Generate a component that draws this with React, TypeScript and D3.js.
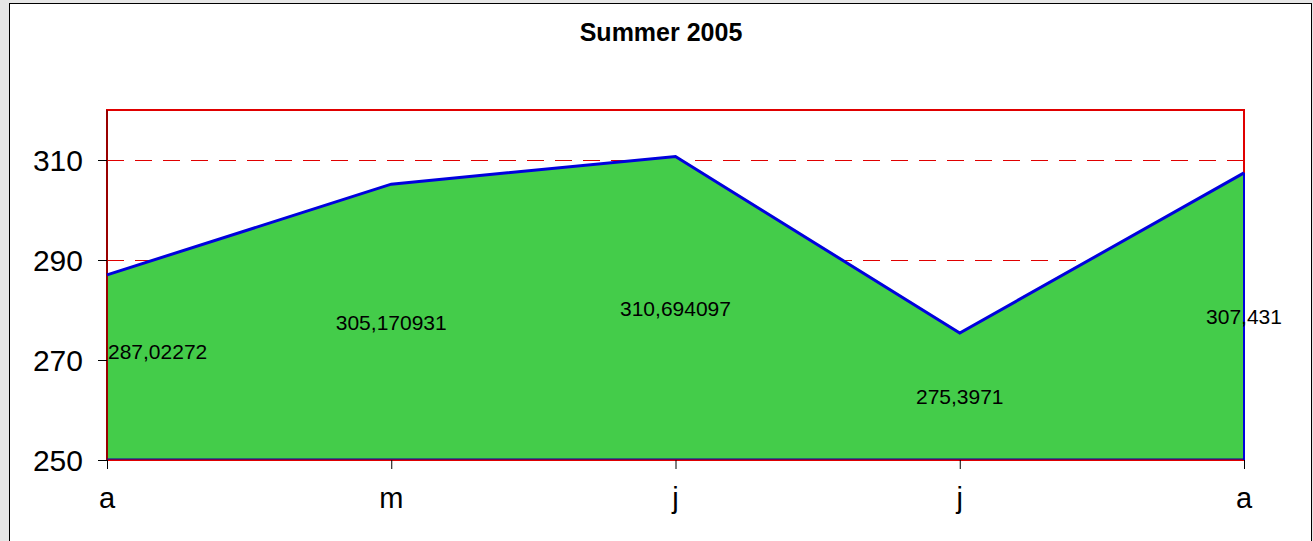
import React from 'react';
import * as d3 from 'd3';

const months = ['a', 'm', 'j', 'j', 'a'];
const values = [287.02272, 305.170931, 310.694097, 275.3971, 307.431];
const labels = ['287,02272', '305,170931', '310,694097', '275,3971', '307,431'];
const yTicks = [250, 270, 290, 310];
const gridValues = [290, 310];

const W = 1313;
const H = 541;
const margin = { top: 110, right: 69, bottom: 81, left: 107 };
const font = "Arial, 'Liberation Sans', sans-serif";

const App = () => {
    const plotW = W - margin.left - margin.right;
    const plotH = H - margin.top - margin.bottom;

    const x = d3.scalePoint<number>()
        .domain(d3.range(values.length))
        .range([0, plotW]);

    const y = d3.scaleLinear()
        .domain([250, 320])
        .range([plotH, 0]);

    const area = d3.area<number>()
        .x((d, i) => x(i) as number)
        .y0(y(250))
        .y1(d => y(d));

    const line = d3.line<number>()
        .x((d, i) => x(i) as number)
        .y(d => y(d));

    // data labels sit in the middle of the filled area
    const labelPos = (d: number, i: number) => {
        const xi = x(i) as number;
        let anchor = 'middle';
        if (i === 0) anchor = 'start';
        let yy = (y(d) + y(250)) / 2;
        if (i === 0) yy = y(271.8);
        return { xi: i === 0 ? xi + 1 : xi, yy, anchor };
    };

    return (
        <div style={{ position: 'absolute', left: 0, top: 0 }}>
            <svg width={W} height={H} style={{ display: 'block' }}>
                <rect x={0} y={0} width={W} height={H} fill="#e6e6e6" />
                <rect x={9.5} y={3.5} width={1302} height={H + 10} fill="#fff" stroke="#000" strokeWidth={1} />
                <text x={661} y={41} textAnchor="middle" fontFamily={font}
                    fontWeight="bold" fontSize={25}>Summer 2005</text>

                <g transform={`translate(${margin.left},${margin.top})`}>
                    {gridValues.map(v => (
                        <line key={v} x1={0} x2={plotW} y1={y(v) + 0.5} y2={y(v) + 0.5}
                            stroke="#e00000" strokeWidth={1} strokeDasharray="17,11" />
                    ))}
                    <path d={area(values) || ''} fill="#44cc4a" />
                    <rect x={0} y={0} width={plotW} height={plotH} fill="none" stroke="#e00000" strokeWidth={2} />
                    <line x1={0} x2={0} y1={0} y2={plotH} stroke="#990000" strokeWidth={2} />
                    <path d={line(values) || ''} fill="none" stroke="#0000dd" strokeWidth={3} />
                    <line x1={plotW} x2={plotW} y1={y(values[values.length - 1])} y2={plotH} stroke="#0000dd" strokeWidth={2} />
                    <line x1={0} x2={plotW} y1={plotH - 1} y2={plotH - 1} stroke="#0000aa" strokeWidth={1} />

                    {yTicks.map(t => (
                        <g key={t}>
                            <line x1={-9} x2={0} y1={y(t) + 0.5} y2={y(t) + 0.5} stroke="#000" strokeWidth={1} />
                            <text x={-24} y={y(t)} dy="0.36em" textAnchor="end"
                                fontFamily={font} fontSize={30}>{t}</text>
                        </g>
                    ))}
                    {months.map((m, i) => (
                        <g key={i}>
                            <line x1={(x(i) as number) + 0.5} x2={(x(i) as number) + 0.5} y1={plotH} y2={plotH + 9} stroke="#000" strokeWidth={1} />
                            <text x={x(i)} y={plotH + 48} textAnchor="middle"
                                fontFamily={font} fontSize={29}>{m}</text>
                        </g>
                    ))}
                    {values.map((d, i) => {
                        const p = labelPos(d, i);
                        return (
                            <text key={i} x={p.xi} y={p.yy} dy="0.36em" textAnchor={p.anchor}
                                fontFamily={font} fontSize={21}>{labels[i]}</text>
                        );
                    })}
                </g>
            </svg>
        </div>
    );
};

export default App;
